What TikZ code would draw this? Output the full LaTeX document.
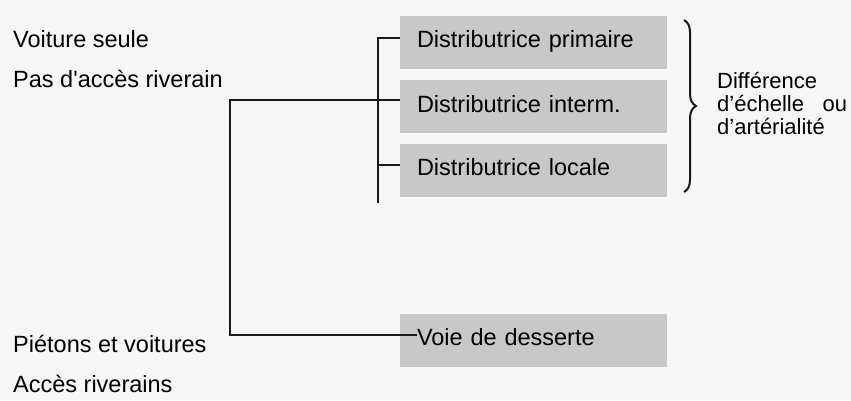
\documentclass[tikz,border=0pt]{standalone}
\usepackage{fontspec}
\setmainfont{Liberation Sans}
\usepackage{xcolor}
\usetikzlibrary{decorations.pathreplacing}

\definecolor{bgcol}{RGB}{246,246,246}
\definecolor{boxgray}{RGB}{200,200,200}

\begin{document}
\begin{tikzpicture}[
    x=1pt, y=-1pt,
    every node/.style={font=\fontsize{23.5}{24}\selectfont, text=black},
    box/.style={rectangle, fill=boxgray, minimum width=267pt, minimum height=53pt,
                text width=233pt, inner xsep=17pt, align=left,
                text height=16pt, text depth=5pt},
    label/.style={anchor=base west, inner sep=0pt},
    line/.style={line width=2pt, black!90}
  ]

  \fill[bgcol] (0,0) rectangle (851,400);
  \useasboundingbox (0,0) rectangle (851,400);

  \node[box] (prim) at (533.5,42) {Distributrice primaire};
  \node[box] (inter) at (533.5,106.5) {Distributrice interm.};
  \node[box] (loc) at (533.5,170) {Distributrice locale};
  \node[box] (voie) at (533.5,340) {Voie de desserte};

  \node[label] (voit) at (13,47) {Voiture seule};
  \node[label] (pas) at (13,87) {Pas d\textquotesingle acc\`es riverain};
  \node[label] (piet) at (13,352) {Pi\'etons et voitures};
  \node[label] (acc) at (13,392) {Acc\`es riverains};

  % bar to the three distributors
  \coordinate (bartop) at (378,38);
  \coordinate (barbot) at (378,203);
  \coordinate (jloc) at (378,165);
  \draw[line] (barbot) -- (bartop) -- (prim.west |- bartop);
  \draw[line] (jloc) -- (loc.west |- jloc);

  % link to the local road
  \coordinate (bend1) at (230,100);
  \coordinate (bend2) at (230,335);
  \coordinate (voieend) at (417,335);
  \draw[line] (inter.west |- bend1) -- (bend1) -- (bend2) -- (voieend);

  % brace
  \coordinate (brtop) at (684,20);
  \coordinate (brbot) at (684,192);
  \draw[line, decorate, decoration={brace, amplitude=12pt}] (brtop) -- (brbot);
  \node[anchor=north west, inner sep=0pt, text width=130pt, align=left,
        font=\fontsize{22}{23}\selectfont] (diff) at (717,72)
    {Diff\'erence\\d'\'echelle\hfill ou\\d'art\'erialit\'e};

\end{tikzpicture}
\end{document}
